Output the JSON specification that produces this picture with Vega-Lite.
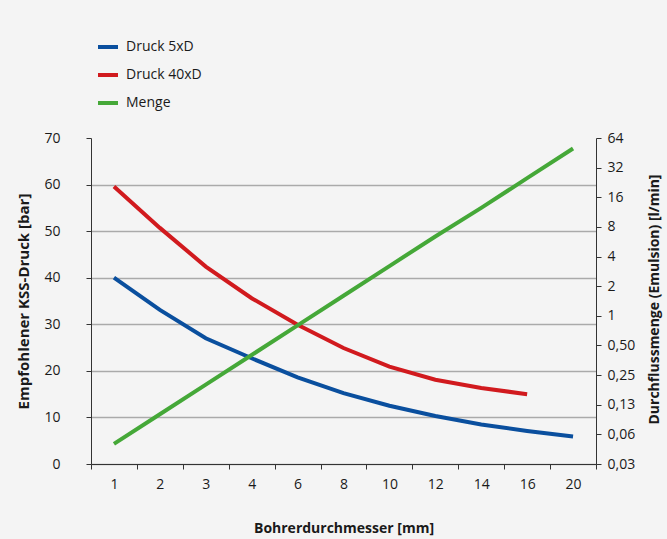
{
  "$schema": "https://vega.github.io/schema/vega-lite/v6.json",
  "width": 505,
  "height": 326,
  "autosize": {"type": "none"},
  "padding": {"left": 91, "top": 138, "right": 71, "bottom": 75},
  "background": "#f4f4f4",
  "config": {
    "view": {"stroke": null},
    "font": "Open Sans",
    "axis": {"labelFont": "Open Sans", "titleFont": "Open Sans", "labelColor": "#1a1a1a", "titleColor": "#1a1a1a", "domainColor": "#333333", "tickColor": "#333333", "labelFontSize": 14, "titleFontSize": 14, "titleFontWeight": "bold"}
  },
  "data": {
    "values": [
      {"d": "1", "serie": "Druck 5xD", "wert": 40},
      {"d": "2", "serie": "Druck 5xD", "wert": 33.1},
      {"d": "3", "serie": "Druck 5xD", "wert": 27.0},
      {"d": "4", "serie": "Druck 5xD", "wert": 22.7},
      {"d": "6", "serie": "Druck 5xD", "wert": 18.6},
      {"d": "8", "serie": "Druck 5xD", "wert": 15.2},
      {"d": "10", "serie": "Druck 5xD", "wert": 12.5},
      {"d": "12", "serie": "Druck 5xD", "wert": 10.3},
      {"d": "14", "serie": "Druck 5xD", "wert": 8.5},
      {"d": "16", "serie": "Druck 5xD", "wert": 7.1},
      {"d": "20", "serie": "Druck 5xD", "wert": 5.9},
      {"d": "1", "serie": "Druck 40xD", "wert": 59.6},
      {"d": "2", "serie": "Druck 40xD", "wert": 50.7},
      {"d": "3", "serie": "Druck 40xD", "wert": 42.4},
      {"d": "4", "serie": "Druck 40xD", "wert": 35.6},
      {"d": "6", "serie": "Druck 40xD", "wert": 29.9},
      {"d": "8", "serie": "Druck 40xD", "wert": 24.9},
      {"d": "10", "serie": "Druck 40xD", "wert": 20.9},
      {"d": "12", "serie": "Druck 40xD", "wert": 18.1},
      {"d": "14", "serie": "Druck 40xD", "wert": 16.3},
      {"d": "16", "serie": "Druck 40xD", "wert": 15.0},
      {"d": "1", "serie": "Menge", "wert": 0.05},
      {"d": "2", "serie": "Menge", "wert": 0.1},
      {"d": "3", "serie": "Menge", "wert": 0.2},
      {"d": "4", "serie": "Menge", "wert": 0.4},
      {"d": "6", "serie": "Menge", "wert": 0.8},
      {"d": "8", "serie": "Menge", "wert": 1.6},
      {"d": "10", "serie": "Menge", "wert": 3.2},
      {"d": "12", "serie": "Menge", "wert": 6.4},
      {"d": "14", "serie": "Menge", "wert": 12.5},
      {"d": "16", "serie": "Menge", "wert": 25},
      {"d": "20", "serie": "Menge", "wert": 50}
    ]
  },
  "encoding": {
    "x": {
      "field": "d",
      "type": "ordinal",
      "sort": ["1", "2", "3", "4", "6", "8", "10", "12", "14", "16", "20"],
      "scale": {"type": "band", "paddingInner": 0, "paddingOuter": 0},
      "axis": {"title": "Bohrerdurchmesser [mm]", "labelAngle": 0, "tickBand": "extent", "tickSize": 5, "labelPadding": 8, "titlePadding": 30, "domainColor": "#333333"}
    },
    "color": {
      "field": "serie",
      "type": "nominal",
      "sort": ["Druck 5xD", "Druck 40xD", "Menge"],
      "scale": {"domain": ["Druck 5xD", "Druck 40xD", "Menge"], "range": ["#0a4f9e", "#d11a1e", "#45a838"]},
      "legend": {
        "title": null,
        "orient": "none",
        "legendX": 5,
        "legendY": -103,
        "symbolType": "stroke",
        "symbolStrokeWidth": 4,
        "symbolSize": 400,
        "labelFontSize": 14,
        "labelFont": "Open Sans",
        "labelColor": "#1a1a1a",
        "rowPadding": 8,
        "labelOffset": 6,
        "encode": {
          "symbols": {"update": {"stroke": {"signal": "datum.value == 'Druck 5xD' ? '#4f81bd' : datum.value == 'Druck 40xD' ? '#c0504d' : '#9bbb59'"}}}
        }
      }
    }
  },
  "layer": [
    {
      "transform": [{"filter": "datum.serie != 'Menge'"}],
      "mark": {"type": "line", "strokeWidth": 4},
      "encoding": {
        "y": {
          "field": "wert",
          "type": "quantitative",
          "scale": {"domain": [0, 70], "nice": false},
          "axis": {
            "title": "Empfohlener KSS-Druck [bar]",
            "titleFontSize": 15,
            "values": [0, 10, 20, 30, 40, 50, 60, 70],
            "tickSize": 5,
            "labelPadding": 26,
            "titlePadding": 12,
            "gridColor": "#aaaaaa",
            "gridWidth": 1.5,
            "gridOpacity": {"condition": {"test": "datum.value == 70", "value": 0}, "value": 1}
          }
        }
      }
    },
    {
      "transform": [{"filter": "datum.serie == 'Menge'"}],
      "mark": {"type": "line", "strokeWidth": 4},
      "encoding": {
        "y": {
          "field": "wert",
          "type": "quantitative",
          "scale": {"type": "log", "base": 2, "domain": [0.03125, 64], "nice": false},
          "axis": {
            "orient": "right",
            "title": "Durchflussmenge (Emulsion) [l/min]",
            "titleFontSize": 14,
            "titleAngle": 270,
            "titleAlign": "center",
            "titleBaseline": "middle",
            "titleX": 58,
            "titleY": 161,
            "values": [0.03125, 0.0625, 0.125, 0.25, 0.5, 1, 2, 4, 8, 16, 32, 64],
            "labelExpr": "datum.value < 1 ? replace(format(datum.value, '.2f'), '.', ',') : format(datum.value, 'd')",
            "tickSize": 5,
            "labelPadding": 6,
            "grid": false
          }
        }
      }
    }
  ],
  "resolve": {"scale": {"y": "independent"}}
}
